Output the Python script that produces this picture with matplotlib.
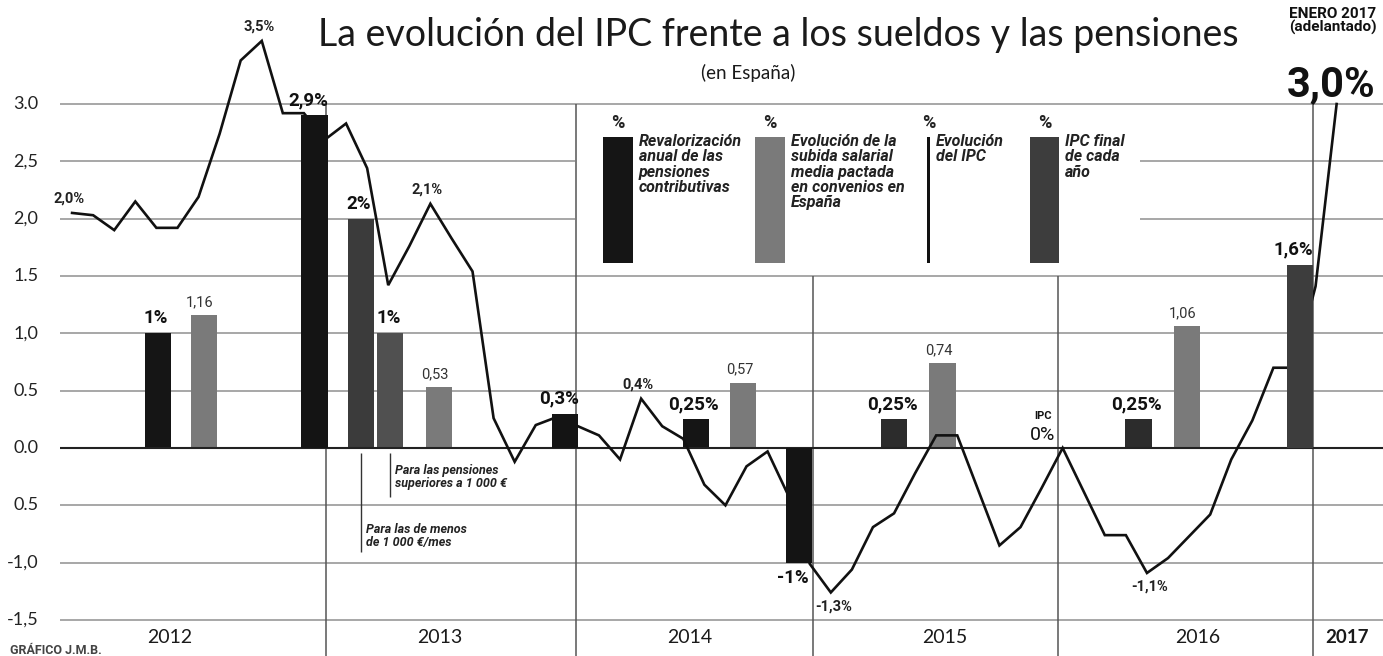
import matplotlib
matplotlib.use("Agg")
import matplotlib.pyplot as plt
from matplotlib.patches import Rectangle
import logging
logging.getLogger('matplotlib.font_manager').setLevel(logging.ERROR)

# IPC interanual, enero 2012 .. enero 2017
ipc_2012 = [2.05, 2.03, 1.90, 2.15, 1.92, 1.92, 2.19, 2.74, 3.38, 3.55, 2.92, 2.92]
ipc_2013 = [2.69, 2.83, 2.44, 1.42, 1.76, 2.13, 1.83, 1.54, 0.26, -0.12, 0.20, 0.27]
ipc_2014 = [0.19, 0.11, -0.10, 0.43, 0.19, 0.08, -0.32, -0.50, -0.16, -0.03, -0.42, -1.01]
ipc_2015 = [-1.26, -1.06, -0.69, -0.57, -0.22, 0.11, 0.11, -0.37, -0.85, -0.69, -0.35, 0.0]
ipc_2016 = [-0.38, -0.76, -0.76, -1.09, -0.96, -0.77, -0.58, -0.10, 0.24, 0.70, 0.70, 1.41]
ipc_2017 = [3.0]

years = ['2012', '2013', '2014', '2015', '2016', '2017']

pension_vals = [1.0, 2.0, 1.0, 0.25, 0.25, 0.25]
pension_labels = ['1%', '2%', '1%', '0,25%', '0,25%', '0,25%']
salary_vals = [1.16, 0.53, 0.57, 0.74, 1.06]
salary_labels = ['1,16', '0,53', '0,57', '0,74', '1,06']
ipc_final_vals = [2.9, 0.3, -1.0, 1.6]
ipc_final_labels = ['2,9%', '0,3%', '-1%', '1,6%']

# etiquetas sobre la linea: (indice del mes, texto)
line_notes = [(0, '2,0%'), (9, '3,5%'), (17, '2,1%'), (27, '0,4%'), (36, '-1,3%'), (51, '-1,1%')]

yticks = [3.0, 2.5, 2.0, 1.5, 1.0, 0.5, 0.0, -0.5, -1.0, -1.5]
ytick_labels = ['3.0', '2,5', '2,0', '1.5', '1,0', '0.5', '0.0', '0.5', '-1,0', '-1,5']

# ---- layout (unidades: meses desde enero 2012) ----
pension_x = [4.06, 13.7, 15.1, 29.6, 39.0, 50.6]
salary_x = [6.24, 17.4, 31.85, 41.3, 52.9]
ipc_final_x = [11.5, 23.4, 34.5, 58.25]
bar_w = 1.24
year_lines = [12.05, 23.9, 35.15, 46.8, 58.9]
year_line_top = [3.0, 3.0, 1.5, 1.5, 3.0]
year_label_x = [4.65, 17.45, 29.3, 41.4, 53.4, 60.5]

pension_colors = ['#151515', '#3b3b3b', '#505050', '#151515', '#2c2c2c', '#2c2c2c']
ipc_final_colors = ['#141414', '#141414', '#141414', '#3d3d3d']
salary_color = '#7a7a7a'
grid_color = '#a0a0a0'

SANS = ['Roboto', 'DejaVu Sans']
LIGHT = ['Lato', 'DejaVu Sans']

W, H = 1383, 656


def fx(x):
    return x / W


def fy(y):
    return 1 - y / H


fig = plt.figure(figsize=(W / 100, H / 100), dpi=100)
fig.patch.set_facecolor('white')
ax = fig.add_axes([0, 0, 1, 1])
ax.set_xlim(-3.42, 62.2)
ax.set_ylim(-1.814, 3.907)
ax.axis('off')

# grid
for v, lab in zip(yticks, ytick_labels):
    if v == 0:
        ax.hlines(v, -0.57, 62.2, color='#222222', lw=1.5, zorder=3)
    else:
        ax.hlines(v, -0.57, 62.2, color=grid_color, lw=1.3, zorder=1)
    ax.text(-1.61, v, lab, ha='right', va='center',
            fontsize=13, family=LIGHT, weight='normal', color='#222222')

# legend box covers the grid
ax.add_patch(Rectangle((23.86, 1.53), 50.66 - 23.86, 2.97 - 1.53,
                       facecolor='white', edgecolor='none', zorder=1.5))

for x, top in zip(year_lines, year_line_top):
    ax.vlines(x, -1.82, top, color='#555555', lw=1.1, zorder=1.6)

for x, lab in zip(year_label_x, years):
    bold = lab == '2017'
    ax.text(x, -1.65, lab, ha='center', va='center', fontsize=14 if not bold else 13.5,
            family=LIGHT, weight='bold' if bold else 'normal', color='#1a1a1a')

# bars
ax.bar(salary_x, salary_vals, width=bar_w, color=salary_color, zorder=2)
ax.bar(pension_x, pension_vals, width=bar_w, color=pension_colors, zorder=2)

ipc = ipc_2012 + ipc_2013 + ipc_2014 + ipc_2015 + ipc_2016 + ipc_2017
months = list(range(len(ipc)))
ax.plot(months, ipc, color='#111111', lw=1.9, solid_joinstyle='miter', zorder=4)

ax.bar(ipc_final_x, ipc_final_vals, width=bar_w, color=ipc_final_colors, zorder=5)

# value labels
for x, v, t in zip(pension_x, pension_vals, pension_labels):
    ax.annotate(t, (x, v), xytext=(-2, 6), textcoords='offset pixels', ha='center',
                va='bottom', fontsize=13.5, weight='bold', family=SANS, color='#111111', zorder=6)
for x, v, t in zip(salary_x, salary_vals, salary_labels):
    ax.annotate(t, (x, v), xytext=(-4, 6), textcoords='offset pixels', ha='center',
                va='bottom', fontsize=10.5, family=SANS, color='#333333', zorder=6)
for x, v, t in zip(ipc_final_x, ipc_final_vals, ipc_final_labels):
    ax.annotate(t, (x, v), xytext=(-6, 6 if v > 0 else -6), textcoords='offset pixels',
                ha='center', va='bottom' if v > 0 else 'top', fontsize=13.5, weight='bold',
                family=SANS, color='#111111', zorder=6)

for i, t in line_notes:
    v = ipc[i]
    up = v > 0
    ax.annotate(t, (i, v), xytext=(-3 if up else 3, 7 if up else -7), textcoords='offset pixels',
                ha='center', va='bottom' if up else 'top', fontsize=10.5, weight='bold',
                family=SANS, color='#222222', zorder=6)

# IPC 0% al final de 2015
ax.annotate('0%', (47, ipc[47]), xytext=(-20, 4), textcoords='offset pixels', ha='center',
            va='bottom', fontsize=14, family=SANS, color='#111111', zorder=6)
ax.annotate('IPC', (47, ipc[47]), xytext=(-20, 27), textcoords='offset pixels', ha='center',
            va='bottom', fontsize=8, weight='bold', family=SANS, color='#111111', zorder=6)

# notas de pensiones 2013
ax.vlines(pension_x[1], -0.91, -0.04, color='#333333', lw=1.0, zorder=3)
ax.vlines(pension_x[2], -0.43, -0.04, color='#333333', lw=1.0, zorder=3)
ax.annotate('Para las de menos\nde 1 000 €/mes', (pension_x[1], -0.65), xytext=(5, 0),
            textcoords='offset pixels', ha='left', va='top', fontsize=9, style='italic',
            weight='bold', family=SANS, color='#222222', linespacing=1.0)
ax.annotate('Para las pensiones\nsuperiores a 1 000 €', (pension_x[2], -0.14), xytext=(5, 0),
            textcoords='offset pixels', ha='left', va='top', fontsize=9, style='italic',
            weight='bold', family=SANS, color='#222222', linespacing=1.0)

# leyenda
legend = [
    (603, 30, pension_colors[0], 'Revalorización\nanual de las\npensiones\ncontributivas'),
    (755, 30, salary_color, 'Evolución de la\nsubida salarial\nmedia pactada\nen convenios en\nEspaña'),
    (927, 3, '#111111', 'Evolución\ndel IPC'),
    (1030, 29, ipc_final_colors[3], 'IPC final\nde cada\naño'),
]
for x, w, c, t in legend:
    fig.patches.append(Rectangle((fx(x), fy(263)), w / W, 126 / H, transform=fig.transFigure,
                                 facecolor=c, edgecolor='none', zorder=7))
    fig.text(fx(x + w / 2), fy(123), '%', ha='center', va='center', fontsize=13,
             weight='bold', family=SANS, color='#222222')
    fig.text(fx(x + w + 6), fy(134), t, ha='left', va='top', fontsize=11.5, style='italic',
             weight='bold', family=SANS, color='#222222', linespacing=1.03)

# titulos
fig.text(fx(778), fy(35), 'La evolución del IPC frente a los sueldos y las pensiones',
         ha='center', va='center', fontsize=27, family=LIGHT, weight='normal', color='#1a1a1a')
fig.text(fx(748), fy(73), '(en España)', ha='center', va='center', fontsize=13.5,
         family=LIGHT, weight='normal', color='#1a1a1a')
fig.text(fx(1333), fy(21), 'ENERO 2017\n(adelantado)', ha='center', va='center', fontsize=11,
         weight='bold', family=SANS, color='#111111', linespacing=0.95)
fig.text(fx(1331), fy(85), '3,0%', ha='center', va='center', fontsize=30, weight='bold',
         family=SANS, color='#111111')
fig.text(fx(10), fy(650), 'GRÁFICO J.M.B.', ha='left', va='center', fontsize=9,
         weight='bold', family=SANS, color='#444444')

fig.savefig('out.png', dpi=100, facecolor='white')
